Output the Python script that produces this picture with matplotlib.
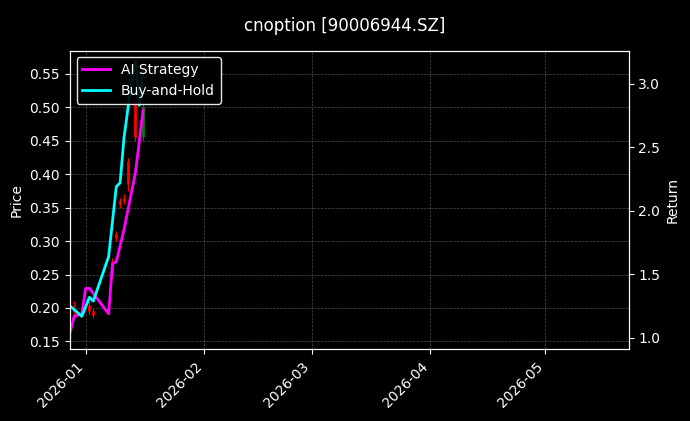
import matplotlib
matplotlib.use("Agg")
import matplotlib.pyplot as plt
import matplotlib.dates as mdates
import pandas as pd

plt.style.use("dark_background")

c_dates = ["2025-12-29", "2026-01-02", "2026-01-03", "2026-01-08", "2026-01-09", "2026-01-10",
           "2026-01-11", "2026-01-12", "2026-01-14", "2026-01-15", "2026-01-16"]
c_open  = [0.200, 0.205, 0.195, 0.270, 0.310, 0.360, 0.365, 0.420, 0.510, 0.545, 0.455]
c_close = [0.195, 0.195, 0.190, 0.250, 0.305, 0.355, 0.360, 0.385, 0.455, 0.530, 0.500]
c_high  = [0.210, 0.210, 0.200, 0.275, 0.315, 0.365, 0.370, 0.425, 0.520, 0.560, 0.505]
c_low   = [0.190, 0.190, 0.185, 0.245, 0.300, 0.350, 0.355, 0.375, 0.450, 0.520, 0.450]

bh_dates = ["2025-12-28", "2025-12-31", "2026-01-02", "2026-01-03", "2026-01-07", "2026-01-09",
            "2026-01-10", "2026-01-11", "2026-01-13", "2026-01-14", "2026-01-15", "2026-01-16"]
bh_ret = [1.25, 1.17, 1.32, 1.29, 1.64, 2.19, 2.22, 2.57, 3.02, 3.18, 2.83, 3.10]

ai_dates = ["2025-12-28", "2025-12-29", "2025-12-31", "2026-01-01", "2026-01-02", "2026-01-07",
            "2026-01-08", "2026-01-09", "2026-01-11", "2026-01-14", "2026-01-16"]
ai_ret = [1.05, 1.17, 1.19, 1.39, 1.39, 1.19, 1.58, 1.60, 1.85, 2.30, 2.79]

fig, ax = plt.subplots(figsize=(6.9, 4.21), dpi=100)
fig.patch.set_facecolor("black")
ax.set_facecolor("black")

cd = pd.to_datetime(c_dates)
for d, o, h, l, c in zip(cd, c_open, c_high, c_low, c_close):
    col = "green" if c >= o else "red"
    ax.vlines(d, l, h, color=col, linewidth=0.8)
    ax.vlines(d, min(o, c), max(o, c), color=col, linewidth=2)

ax.set_ylim(0.138, 0.585)
ax.set_yticks([0.15, 0.20, 0.25, 0.30, 0.35, 0.40, 0.45, 0.50, 0.55])
ax.set_ylabel("Price")
ax.grid(True, linestyle="--", linewidth=0.5, color="gray", alpha=0.6)

ax2 = ax.twinx()
l1, = ax2.plot(pd.to_datetime(ai_dates), ai_ret, color="#ff00ff", linewidth=2, label="AI Strategy")
l2, = ax2.plot(pd.to_datetime(bh_dates), bh_ret, color="#00ffff", linewidth=2, label="Buy-and-Hold")
ax2.set_ylim(0.91, 3.26)
ax2.set_yticks([1.0, 1.5, 2.0, 2.5, 3.0])
ax2.set_ylabel("Return")

ax.set_xlim(pd.Timestamp("2025-12-27 20:00"), pd.Timestamp("2026-05-22 18:00"))
ax.xaxis.set_major_locator(mdates.MonthLocator())
ax.xaxis.set_major_formatter(mdates.DateFormatter("%Y-%m"))
plt.setp(ax.get_xticklabels(), rotation=45, ha="right")

ax2.legend(handles=[l1, l2], loc="upper left", facecolor="black", edgecolor="white", framealpha=0.9)
fig.suptitle("cnoption [90006944.SZ]", y=0.96)
fig.subplots_adjust(left=0.101, right=0.911, top=0.88, bottom=0.17)
fig.savefig("out.png", dpi=100, facecolor="black")
